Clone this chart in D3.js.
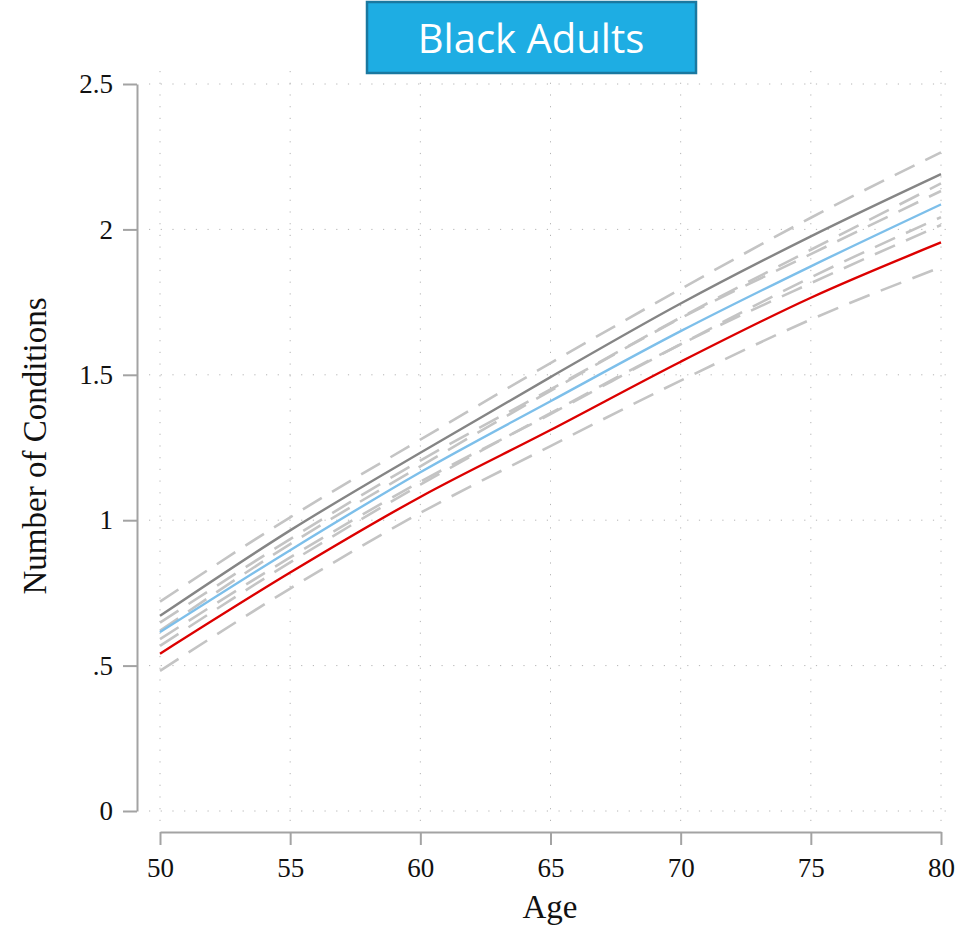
<!DOCTYPE html>
<html>
<head>
<meta charset="utf-8">
<script src="https://cdn.jsdelivr.net/npm/d3@7"></script>
<style>
  body { margin: 0; background: #fff; }
  #chart svg { display: block; }
  .tick text { font-family: "Liberation Serif", serif; font-size: 27px; fill: #111; }
  .axis path, .axis line { stroke: #a3a3a3; stroke-width: 2; }
  .grid line { stroke: #b4b4b4; stroke-width: 1; stroke-dasharray: 1.2 10.5; }
  .axis-label { font-family: "Liberation Serif", serif; font-size: 33px; fill: #111; }
  .title-text { font-family: "Open Sans", sans-serif; font-size: 40px; fill: #fff; }
</style>
</head>
<body>
<div id="chart"></div>
<script>
// Ages on the x axis
const ages = [50, 55, 60, 65, 70, 75, 80];

// Y tick values and their labels
const yTicks = [0, 0.5, 1, 1.5, 2, 2.5];
const yTickLabels = ["0", ".5", "1", "1.5", "2", "2.5"];

// Predicted number of conditions at each age
const grayFit   = [0.671, 0.965, 1.232, 1.492, 1.745, 1.976, 2.19];
const grayUpper = [0.72, 1.01, 1.277, 1.54, 1.795, 2.04, 2.265];
const grayLower = [0.62, 0.918, 1.185, 1.445, 1.695, 1.915, 2.132];

const blueFit   = [0.615, 0.897, 1.165, 1.409, 1.65, 1.873, 2.086];
const blueUpper = [0.648, 0.935, 1.205, 1.45, 1.697, 1.93, 2.158];
const blueLower = [0.568, 0.855, 1.122, 1.368, 1.605, 1.815, 2.015];

const redFit    = [0.541, 0.82, 1.08, 1.31, 1.545, 1.765, 1.955];
const redUpper  = [0.591, 0.872, 1.132, 1.365, 1.605, 1.835, 2.042];
const redLower  = [0.482, 0.765, 1.025, 1.255, 1.48, 1.69, 1.87];

const width = 960, height = 930;

const svg = d3.select("#chart").append("svg")
    .attr("width", width)
    .attr("height", height);

// scales
const x = d3.scaleLinear().domain([50, 80]).range([160, 941]);
const y = d3.scaleLinear().domain([0, 2.5]).range([811, 84]);

// dotted grid, spanning a bit past the data range
const grid = svg.append("g").attr("class", "grid");
grid.selectAll(".hgrid")
    .data(yTicks)
    .join("line")
    .attr("x1", 149).attr("x2", 954)
    .attr("y1", d => y(d)).attr("y2", d => y(d));
grid.selectAll(".vgrid")
    .data(ages)
    .join("line")
    .attr("y1", 71).attr("y2", 823)
    .attr("x1", d => x(d)).attr("x2", d => x(d));

// axes
svg.append("g")
    .attr("class", "axis")
    .attr("transform", "translate(137,0)")
    .call(d3.axisLeft(y)
        .tickValues(yTicks)
        .tickFormat((d, i) => yTickLabels[i])
        .tickSize(14)
        .tickSizeOuter(0)
        .tickPadding(10));

svg.append("g")
    .attr("class", "axis")
    .attr("transform", "translate(0,832)")
    .call(d3.axisBottom(x)
        .tickValues(ages)
        .tickSize(13)
        .tickSizeOuter(0)
        .tickPadding(13));

svg.selectAll(".axis .domain").attr("fill", "none");

// lines: dashed bands first, then fitted curves
const series = [
    { name: "grayUpper", values: grayUpper, kind: "ci" },
    { name: "grayLower", values: grayLower, kind: "ci" },
    { name: "blueUpper", values: blueUpper, kind: "ci" },
    { name: "blueLower", values: blueLower, kind: "ci" },
    { name: "redUpper", values: redUpper, kind: "ci" },
    { name: "redLower", values: redLower, kind: "ci" },
    { name: "gray", values: grayFit, kind: "fit", color: "#858585" },
    { name: "blue", values: blueFit, kind: "fit", color: "#7dbfea" },
    { name: "red", values: redFit, kind: "fit", color: "#dc0000" }
];

const line = d3.line()
    .x((d, i) => x(ages[i]))
    .y(d => y(d))
    .curve(d3.curveMonotoneX);

svg.append("g").selectAll("path")
    .data(series)
    .join("path")
    .attr("d", d => line(d.values))
    .attr("fill", "none")
    .attr("stroke", d => d.kind === "ci" ? "#c4c4c4" : d.color)
    .attr("stroke-width", d => d.kind === "ci" ? 2.6 : 2.4)
    .attr("stroke-dasharray", d => d.kind === "ci" ? "22 12" : null);

// axis titles
svg.append("text")
    .attr("class", "axis-label")
    .attr("x", 550)
    .attr("y", 918)
    .attr("text-anchor", "middle")
    .text("Age");

svg.append("text")
    .attr("class", "axis-label")
    .attr("transform", "translate(46,446) rotate(-90)")
    .attr("text-anchor", "middle")
    .text("Number of Conditions");

// title box
svg.append("rect")
    .attr("x", 367).attr("y", 2)
    .attr("width", 329).attr("height", 71)
    .attr("fill", "#1eade3")
    .attr("stroke", "#1a78a0")
    .attr("stroke-width", 2.5);

svg.append("text")
    .attr("class", "title-text")
    .attr("x", 531)
    .attr("y", 53)
    .attr("text-anchor", "middle")
    .text("Black Adults");
</script>
</body>
</html>
